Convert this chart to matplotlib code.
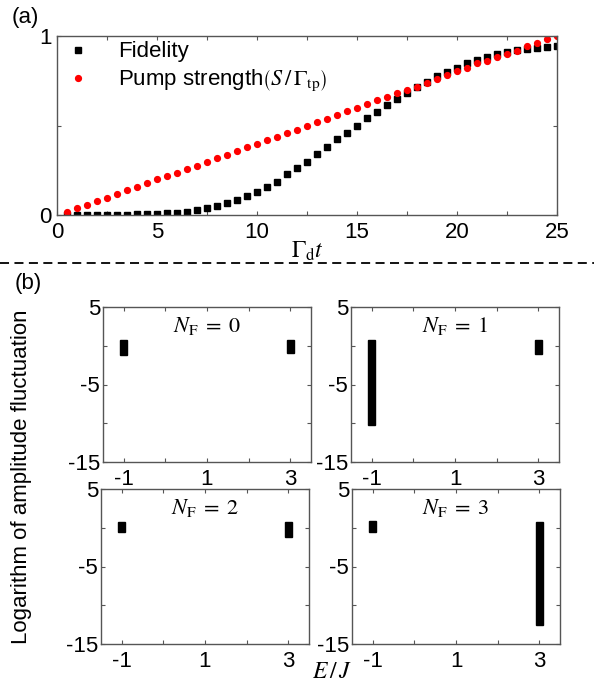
import numpy as np
import matplotlib
matplotlib.use("Agg")
import matplotlib.pyplot as plt
from matplotlib.lines import Line2D
from matplotlib.ticker import MultipleLocator

plt.rcParams['font.family'] = ['Liberation Sans', 'DejaVu Sans']
plt.rcParams['mathtext.fontset'] = 'stix'
plt.rcParams['axes.unicode_minus'] = False

# ---------------- data: panel (a) ----------------
t = [0.5, 1.0, 1.5, 2.0, 2.5, 3.0, 3.5, 4.0, 4.5, 5.0,
     5.5, 6.0, 6.5, 7.0, 7.5, 8.0, 8.5, 9.0, 9.5, 10.0,
     10.5, 11.0, 11.5, 12.0, 12.5, 13.0, 13.5, 14.0, 14.5, 15.0,
     15.5, 16.0, 16.5, 17.0, 17.5, 18.0, 18.5, 19.0, 19.5, 20.0,
     20.5, 21.0, 21.5, 22.0, 22.5, 23.0, 23.5, 24.0, 24.5, 25.0]
fidelity = [0.000, 0.000, 0.000, 0.000, 0.001, 0.001, 0.002, 0.003, 0.004, 0.006,
            0.009, 0.013, 0.018, 0.026, 0.037, 0.050, 0.069, 0.084, 0.106, 0.130,
            0.156, 0.186, 0.227, 0.261, 0.298, 0.339, 0.382, 0.423, 0.460, 0.497,
            0.540, 0.577, 0.613, 0.648, 0.680, 0.713, 0.743, 0.775, 0.799, 0.823,
            0.847, 0.866, 0.885, 0.899, 0.912, 0.922, 0.929, 0.935, 0.939, 0.942]
pump = [0.017, 0.037, 0.058, 0.076, 0.095, 0.119, 0.138, 0.156, 0.177, 0.199,
        0.218, 0.236, 0.257, 0.276, 0.296, 0.318, 0.337, 0.358, 0.378, 0.398,
        0.417, 0.438, 0.458, 0.477, 0.497, 0.518, 0.539, 0.557, 0.579, 0.598,
        0.618, 0.641, 0.657, 0.680, 0.698, 0.715, 0.739, 0.762, 0.780, 0.804,
        0.819, 0.847, 0.860, 0.881, 0.901, 0.918, 0.942, 0.959, 0.981, 1.000]

# ---------------- data: panel (b) ----------------
energies = [-1, 3]
nf_labels = [0, 1, 2, 3]
# [top, bottom] of the log amplitude fluctuation range at each energy
bar_top = [[0.8, 0.7], [0.8, 0.7], [0.8, 0.7], [0.9, 0.8]]
bar_bottom = [[-1.2, -0.9], [-10.2, -1.0], [-0.6, -1.2], [-0.5, -12.6]]

FS = 16
W, H = 594, 690
fig = plt.figure(figsize=(W / 100, H / 100), dpi=100)
spine_col = '#555555'


def style(ax, pad_y):
    for s in ax.spines.values():
        s.set_color(spine_col)
        s.set_linewidth(1.0)
    ax.tick_params(which='both', direction='in', top=True, right=True,
                   colors='black', labelsize=FS)
    ax.tick_params(which='both', color=spine_col)
    ax.tick_params(which='major', length=3, width=0.8)
    ax.tick_params(which='minor', length=3, width=0.8)
    ax.tick_params(axis='x', pad=5)
    ax.tick_params(axis='y', pad=pad_y)


# panel (a)
axa = fig.add_axes([57 / W, 1 - 215 / H, 500 / W, 179 / H])
axa.plot(t, fidelity, 's', color='black', ms=3.8, label='Fidelity')
axa.plot(t, pump, 'o', color='red', ms=4.2,
         label=r'Pump strength$\left(S\,/\,\Gamma_{\mathrm{tp}}\right)$')
axa.set_xlim(0, 25)
axa.set_ylim(0, 1)
axa.xaxis.set_major_locator(MultipleLocator(5))
axa.xaxis.set_minor_locator(MultipleLocator(2.5))
axa.set_yticks([0, 0.5, 1])
axa.set_yticklabels(['0', '', '1'])
style(axa, 4)
axa.set_xlabel(r'$\Gamma_{\mathrm{d}}t$', fontsize=FS + 1, labelpad=-2)
axa.legend(loc='upper left', frameon=False, fontsize=FS, handletextpad=1.4,
           borderaxespad=0.0, labelspacing=0.25, handlelength=0.8,
           bbox_to_anchor=(0.007, 1.02))

fig.text(12 / W, 1 - 17 / H, '(a)', fontsize=FS, va='center', ha='left')
fig.text(15 / W, 1 - 283 / H, '(b)', fontsize=FS, va='center', ha='left')

# dashed separator
fig.add_artist(Line2D([0, 1], [1 - 263 / H, 1 - 263 / H],
                      transform=fig.transFigure, color='black',
                      lw=1.3, linestyle=(0, (5, 3))))

# panel (b)
pos = [(103, 307), (351, 307), (101, 489), (352, 489)]
for i, (lx, ty) in enumerate(pos):
    ax = fig.add_axes([lx / W, 1 - (ty + 155) / H, 208 / W, 155 / H])
    heights = [bar_top[i][j] - bar_bottom[i][j] for j in range(2)]
    ax.bar(energies, heights, bottom=bar_bottom[i], width=0.17,
           color='black', edgecolor='black')
    ax.set_xlim(-1.5, 3.5)
    ax.set_ylim(-15, 5)
    ax.set_xticks([-1, 1, 3])
    ax.xaxis.set_minor_locator(MultipleLocator(1))
    ax.set_yticks([5, -5, -15])
    ax.yaxis.set_minor_locator(MultipleLocator(5))
    style(ax, 2)
    ax.text(1, 2.6, r'$N_{\mathrm{F}}\;=\;%d$' % nf_labels[i], fontsize=FS,
            ha='center', va='center')

fig.text(22 / W, 1 - 477 / H, 'Logarithm of amplitude fluctuation',
         rotation=90, fontsize=FS, ha='center', va='center')
fig.text(332 / W, 1 - 672 / H, r'$E\,/\,J$', fontsize=FS + 1, ha='center', va='center')

fig.savefig('out.png', dpi=100)
